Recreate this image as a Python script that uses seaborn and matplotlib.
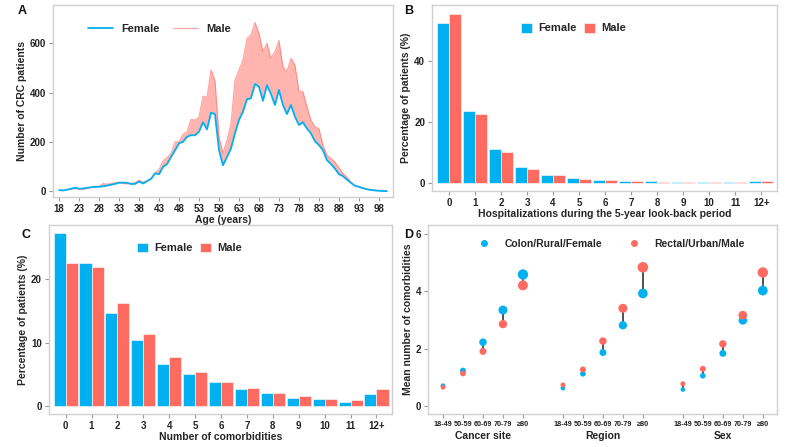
import numpy as np
import pandas as pd
import matplotlib
matplotlib.use('Agg')
import matplotlib.pyplot as plt
import matplotlib.transforms as mtransforms
import seaborn as sns

# Colours
BLUE = "#00B0F0"
RED = "#FF6B61"
FRAME = "#d0d0d0"

# Panel A: number of CRC patients by age
ages = list(range(18, 101))
female_counts = [5, 4, 7, 11, 15, 11, 12, 15, 17, 19, 19, 21, 24, 27, 31, 35, 36, 35, 30, 31,
                 40, 32, 42, 51, 73, 70, 100, 111, 140, 167, 195, 201, 221, 228, 227, 242, 280, 251,
                 319, 313, 167, 106, 140, 174, 236, 289, 323, 373, 377, 435, 424, 367, 430, 395,
                 350, 411, 350, 313, 350, 303, 269, 280, 255, 235, 204, 188, 167, 127, 111, 93,
                 70, 62, 48, 35, 23, 19, 13, 9, 6, 4, 3, 2, 1]
male_counts = [5, 4, 8, 9, 12, 9, 9, 12, 16, 17, 21, 32, 30, 32, 35, 38, 32, 31, 34, 35,
               46, 38, 43, 53, 76, 89, 124, 138, 154, 201, 201, 232, 242, 292, 289, 302, 386, 381,
               492, 448, 221, 154, 208, 275, 451, 492, 532, 620, 634, 684, 640, 566, 600, 539,
               566, 611, 505, 485, 539, 512, 407, 404, 343, 289, 262, 255, 188, 147, 134, 120,
               97, 73, 59, 39, 24, 19, 15, 10, 7, 5, 3, 2, 1]
age_ticks = list(range(18, 99, 5))

# Panel B: hospitalizations during look-back period (%)
hosp_cats = ["0", "1", "2", "3", "4", "5", "6", "7", "8", "9", "10", "11", "12+"]
hosp_female = [52.5, 23.5, 10.9, 5.2, 2.5, 1.4, 0.8, 0.55, 0.45, 0.25, 0.25, 0.1, 0.6]
hosp_male = [55.2, 22.5, 10.2, 4.6, 2.4, 1.2, 0.8, 0.5, 0.35, 0.25, 0.25, 0.1, 0.7]

# Panel C: number of comorbidities (%)
como_cats = ["0", "1", "2", "3", "4", "5", "6", "7", "8", "9", "10", "11", "12+"]
como_female = [27.3, 22.6, 14.6, 10.4, 6.6, 5.1, 3.8, 2.7, 2.1, 1.2, 1.1, 0.7, 1.9]
como_male = [22.6, 21.9, 16.2, 11.3, 7.8, 5.4, 3.8, 2.8, 2.1, 1.6, 1.1, 0.9, 2.6]

# Panel D: mean number of comorbidities by age group
age_groups = ["18-49", "50-59", "60-69", "70-79", "\u226580"]
strata = ["Cancer site", "Region", "Sex"]
mean_first = {  # Colon / Rural / Female
    "Cancer site": [0.70, 1.23, 2.22, 3.34, 4.58],
    "Region": [0.62, 1.12, 1.86, 2.81, 3.92],
    "Sex": [0.57, 1.05, 1.83, 2.98, 4.02],
}
mean_second = {  # Rectal / Urban / Male
    "Cancer site": [0.65, 1.13, 1.90, 2.85, 4.20],
    "Region": [0.73, 1.27, 2.26, 3.40, 4.83],
    "Sex": [0.77, 1.29, 2.16, 3.16, 4.65],
}

sns.set_theme(style="white")
plt.rcParams['font.family'] = ['Liberation Sans', 'DejaVu Sans']
plt.rcParams['font.weight'] = 'bold'
plt.rcParams['axes.labelweight'] = 'bold'

fig = plt.figure(figsize=(8, 4.47), dpi=100)
ax_a = fig.add_axes([0.066, 0.559, 0.425, 0.43])
ax_b = fig.add_axes([0.540, 0.573, 0.431, 0.416])
ax_c = fig.add_axes([0.061, 0.074, 0.429, 0.423])
ax_d = fig.add_axes([0.535, 0.074, 0.436, 0.423])


def style_axes(ax):
    for sp in ax.spines.values():
        sp.set_color(FRAME)
        sp.set_linewidth(1.0)
    ax.tick_params(axis='both', bottom=True, left=True, length=3, width=0.8, color="#999999",
                   labelsize=7, labelcolor="#222222", pad=2)
    for lab in ax.get_xticklabels() + ax.get_yticklabels():
        lab.set_fontweight('bold')


# ---- Panel A ----
df_a = pd.DataFrame({"age": ages, "Female": female_counts, "Male": male_counts})
ax_a.fill_between(df_a["age"], df_a["Female"], df_a["Male"], color=RED, alpha=0.5, lw=0)
sns.lineplot(data=df_a, x="age", y="Male", ax=ax_a, color=RED, lw=0.8, alpha=0.6, label="Male")
sns.lineplot(data=df_a, x="age", y="Female", ax=ax_a, color=BLUE, lw=1.3, label="Female")
ax_a.set_xlim(16.4, 101.5)
ax_a.set_ylim(-23, 755)
ax_a.set_xticks(age_ticks)
ax_a.set_yticks([0, 200, 400, 600])
ax_a.set_xlabel("Age (years)", fontsize=7.5, labelpad=1)
ax_a.set_ylabel("Number of CRC patients", fontsize=7.5, labelpad=2)
h, l = ax_a.get_legend_handles_labels()
order = [l.index("Female"), l.index("Male")]
ax_a.legend([h[i] for i in order], [l[i] for i in order], loc="center",
            bbox_to_anchor=(0.315, 0.875), ncol=2, frameon=False, handlelength=2.2,
            columnspacing=1.2, prop={'weight': 'bold', 'size': 8})
style_axes(ax_a)


# ---- Bar panels ----
def bar_panel(ax, cats, fem, mal, ylim, yticks, xlabel, legend_xy):
    df = pd.DataFrame({"cat": cats * 2, "pct": fem + mal,
                       "sex": ["Female"] * len(cats) + ["Male"] * len(cats)})
    sns.barplot(data=df, x="cat", y="pct", hue="sex", order=cats,
                hue_order=["Female", "Male"], palette=[BLUE, RED], saturation=1,
                width=0.93, edgecolor="white", linewidth=0.4, ax=ax)
    ax.set_xlim(-0.65, len(cats) - 1 + 0.6)
    ax.set_ylim(*ylim)
    ax.set_yticks(yticks)
    ax.set_xlabel(xlabel, fontsize=7.5, labelpad=1)
    ax.set_ylabel("Percentage of patients (%)", fontsize=7.5, labelpad=2)
    ax.legend(loc="center", bbox_to_anchor=legend_xy, ncol=2, frameon=False,
              handlelength=1.0, handleheight=1.0, handletextpad=0.6, columnspacing=0.6,
              prop={'weight': 'bold', 'size': 8})
    style_axes(ax)


bar_panel(ax_b, hosp_cats, hosp_female, hosp_male, (-2.7, 58.3), [0, 20, 40],
          "Hospitalizations during the 5-year look-back period", (0.41, 0.876))
bar_panel(ax_c, como_cats, como_female, como_male, (-1.26, 28.6), [0, 10, 20],
          "Number of comorbidities", (0.41, 0.878))

# ---- Panel D ----
rows = []
for g, s in enumerate(strata):
    for k, ag in enumerate(age_groups):
        xpos = g * 6 + k
        rows.append({"x": xpos, "mean": mean_first[s][k], "grp": "Colon/Rural/Female"})
        rows.append({"x": xpos, "mean": mean_second[s][k], "grp": "Rectal/Urban/Male"})
df_d = pd.DataFrame(rows)
wide = df_d.pivot(index="x", columns="grp", values="mean")
ax_d.vlines(wide.index, wide["Colon/Rural/Female"], wide["Rectal/Urban/Male"],
            color="#333333", lw=1.2, zorder=1)
sns.scatterplot(data=df_d, x="x", y="mean", hue="grp", size="mean",
                palette=[BLUE, RED], sizes=(10, 60), size_norm=(0.5, 5),
                linewidth=0, ax=ax_d, zorder=2, legend=False)
ax_d.set_xlim(-0.75, 16.7)
ax_d.set_ylim(-0.28, 6.31)
ax_d.set_yticks([0, 2, 4, 6])
xt = [g * 6 + k for g in range(len(strata)) for k in range(len(age_groups))]
ax_d.set_xticks(xt)
ax_d.set_xticklabels(age_groups * len(strata))
ax_d.set_xlabel("")
ax_d.set_ylabel("Mean number of comorbidities", fontsize=7.5, labelpad=2)
style_axes(ax_d)
ax_d.tick_params(axis='x', labelsize=5.2)
trans = mtransforms.blended_transform_factory(ax_d.transData, ax_d.transAxes)
for g, s in enumerate(strata):
    ax_d.text(g * 6 + 2, -0.115, s, transform=trans, ha="center", va="center",
              fontsize=7.5, fontweight="bold", color="#222222")
leg_handles = [plt.Line2D([], [], marker="o", ls="", color=BLUE, markersize=4),
               plt.Line2D([], [], marker="o", ls="", color=RED, markersize=4)]
ax_d.legend(leg_handles, ["Colon/Rural/Female", "Rectal/Urban/Male"], loc="center",
            bbox_to_anchor=(0.52, 0.9), ncol=2, frameon=False, handletextpad=1.0,
            columnspacing=2.0, prop={'weight': 'bold', 'size': 7.5})

# Panel letters
for letter, (x, y) in zip("ABCD", [(0.022, 0.975), (0.505, 0.975), (0.027, 0.475), (0.505, 0.475)]):
    fig.text(x, y, letter, fontsize=9, fontweight="bold", ha="left", va="center", color="#111111")

fig.savefig("out.png", dpi=100)
plt.close(fig)
